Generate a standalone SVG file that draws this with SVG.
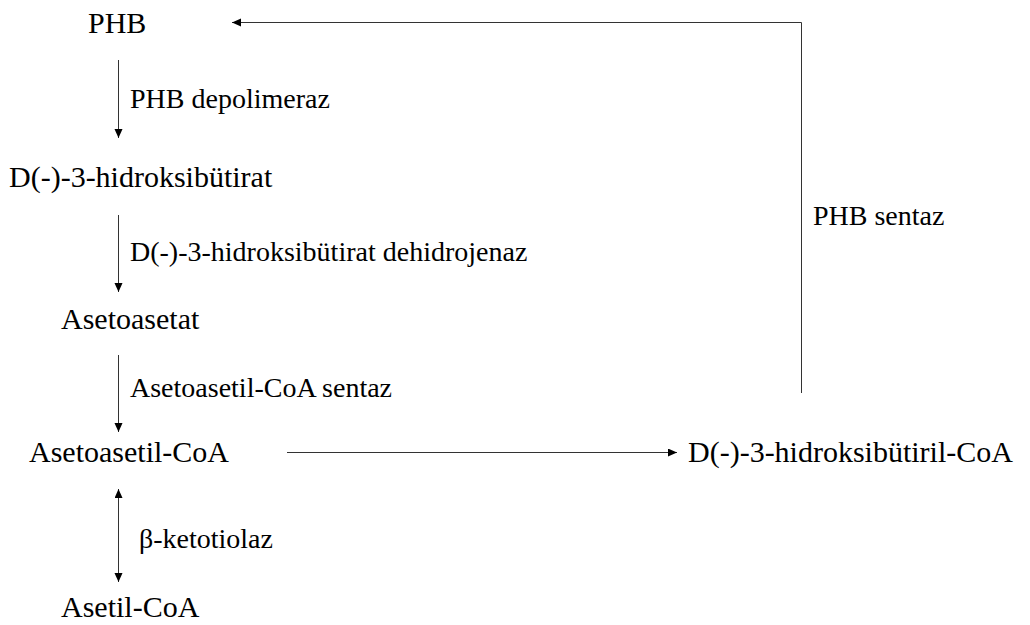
<svg xmlns="http://www.w3.org/2000/svg" width="1030" height="625" viewBox="0 0 1030 625">
<style>
text{font-family:'Liberation Serif','DejaVu Serif',serif;fill:#000}
.n{font-size:30px}
.l{font-size:28px}
.c{stroke:#333;stroke-width:1;fill:none}
</style>
<defs>
<marker id="ah" markerUnits="userSpaceOnUse" markerWidth="10" markerHeight="9" refX="9" refY="4" orient="auto-start-reverse">
<path d="M0,0 L9,4 L0,8 z" fill="#000"/>
</marker>
</defs>
<rect width="1030" height="625" fill="#fff"/>
<g id="connectors">
<line class="c" x1="118.5" y1="60" x2="118.5" y2="138" marker-end="url(#ah)"/>
<line class="c" x1="118.5" y1="215" x2="118.5" y2="292" marker-end="url(#ah)"/>
<line class="c" x1="118.5" y1="355" x2="118.5" y2="432" marker-end="url(#ah)"/>
<line class="c" x1="118.5" y1="489" x2="118.5" y2="582" marker-start="url(#ah)" marker-end="url(#ah)"/>
<line class="c" x1="287" y1="452.5" x2="677" y2="452.5" marker-end="url(#ah)"/>
<path class="c" d="M801.5,393 V22.5 H232" marker-end="url(#ah)"/>
<text class="l" x="130" y="108" font-family="Liberation Serif, serif">PHB depolimeraz</text>
<text class="l" x="130" y="261" font-family="Liberation Serif, serif">D(-)-3-hidroksibütirat dehidrojenaz</text>
<text class="l" x="130" y="397" font-family="Liberation Serif, serif">Asetoasetil-CoA sentaz</text>
<text class="l" x="139" y="548" font-family="Liberation Serif, serif">β-ketotiolaz</text>
<text class="l" x="813" y="225" font-family="Liberation Serif, serif">PHB sentaz</text>
</g>
<g id="phb"><text class="n" x="88" y="33" font-family="Liberation Serif, serif">PHB</text></g>
<g id="hidroksibutirat"><text class="n" x="9" y="187" font-family="Liberation Serif, serif">D(-)-3-hidroksibütirat</text></g>
<g id="asetoasetat"><text class="n" x="61" y="329" font-family="Liberation Serif, serif">Asetoasetat</text></g>
<g id="asetoasetil-coa"><text class="n" x="29" y="462" font-family="Liberation Serif, serif">Asetoasetil-CoA</text></g>
<g id="asetil-coa"><text class="n" x="61" y="617" font-family="Liberation Serif, serif">Asetil-CoA</text></g>
<g id="hidroksibutiril-coa"><text class="n" x="688" y="462" font-family="Liberation Serif, serif">D(-)-3-hidroksibütiril-CoA</text></g>
</svg>
